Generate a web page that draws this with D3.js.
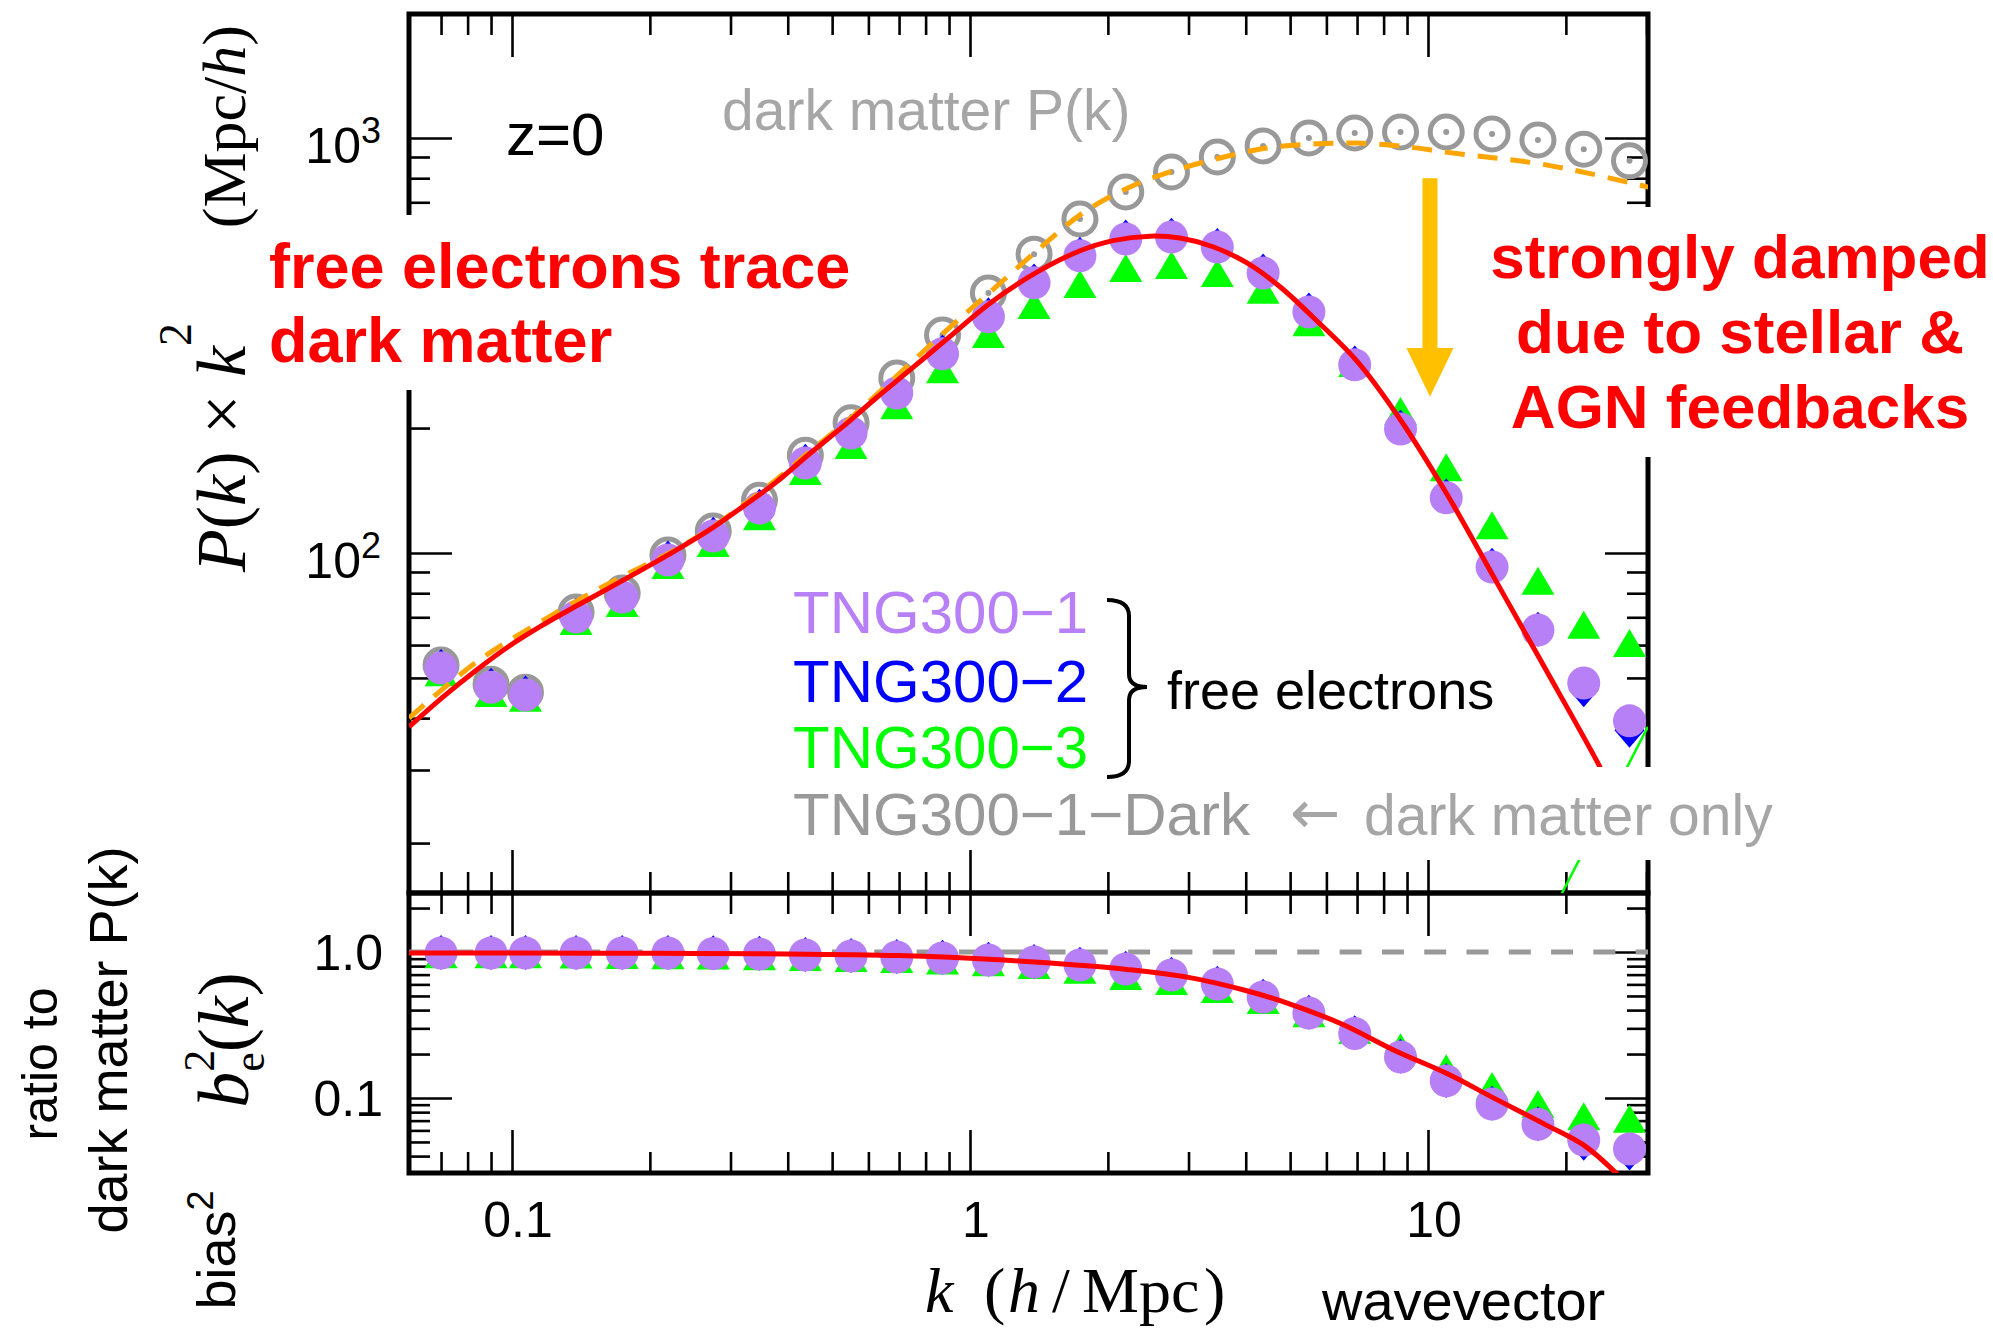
<!DOCTYPE html>
<html><head><meta charset="utf-8">
<script src="https://cdn.jsdelivr.net/npm/d3@7"></script>
<style>html,body{margin:0;padding:0;background:#fff;} svg{display:block;}</style>
</head><body>
<svg id="chart" width="1993" height="1333"></svg>
<script>
// ---------------- DATA ----------------
const kBins = [0.070, 0.090, 0.107, 0.138, 0.174, 0.219, 0.275, 0.347, 0.437, 0.550, 0.692, 0.871, 1.097, 1.380, 1.738, 2.188, 2.754, 3.467, 4.365, 5.495, 6.918, 8.710, 10.96, 13.80, 17.38, 21.88, 27.54];
// P(k) x k^2  (Mpc/h)
const pkDark = [53.7, 48.3, 46.2, 72.1, 80.1, 98.9, 113, 134, 172, 206, 264, 335, 423, 525, 638, 741, 828, 900, 957, 1000, 1028, 1034, 1034, 1023, 989, 940, 881];
const pkTNG1 = [52.8, 47.5, 45.5, 70.1, 78.3, 96.2, 109.9, 128.3, 164.8, 194.6, 243, 302, 371, 448, 520, 571, 577, 546, 473, 381, 284, 199, 135.8, 92.5, 65.2, 48.6, 39.4];
const pkTNG2 = [53.3, 48.0, 46.0, 70.8, 79.1, 97.2, 111.0, 129.6, 166.4, 196.5, 245, 305, 375, 452, 525, 577, 583, 551, 478, 385, 287, 201, 137.2, 93.4, 65.5, 46.8, 37.4];
const pkTNG3 = [51.6, 46.0, 44.8, 68.6, 75.8, 93.6, 105.7, 122.7, 157.7, 182, 227, 277, 337, 396, 445, 486, 494, 473, 431, 360, 287, 220, 161, 116.7, 85.7, 67.2, 60.7];
// bias^2 = ratio to dark matter P(k)
const b2TNG1 = [0.984, 0.984, 0.984, 0.984, 0.984, 0.984, 0.977, 0.969, 0.954, 0.939, 0.924, 0.910, 0.882, 0.854, 0.815, 0.765, 0.696, 0.604, 0.492, 0.382, 0.277, 0.191, 0.131, 0.091, 0.066, 0.0515, 0.0448];
const b2TNG2 = [0.994, 0.994, 0.994, 0.994, 0.994, 0.994, 0.987, 0.979, 0.963, 0.948, 0.933, 0.919, 0.891, 0.862, 0.823, 0.773, 0.703, 0.610, 0.497, 0.386, 0.280, 0.193, 0.132, 0.092, 0.0665, 0.0490, 0.0420];
const b2TNG3 = [0.965, 0.965, 0.965, 0.960, 0.955, 0.950, 0.945, 0.935, 0.925, 0.910, 0.895, 0.875, 0.850, 0.815, 0.755, 0.685, 0.633, 0.558, 0.469, 0.380, 0.292, 0.223, 0.160, 0.121, 0.091, 0.075, 0.072];
// model curves
const modelK  = [0.0596, 0.0702, 0.0834, 0.0985, 0.1161, 0.1378, 0.1628, 0.1924, 0.228, 0.2692, 0.318, 0.377, 0.4452, 0.526, 0.623, 0.751, 0.891, 1.106, 1.400, 1.739, 2.052, 2.472, 2.874, 3.393, 4.026, 4.752, 5.610, 6.998, 8.69, 11.11, 14.0, 17.65, 23.74, 24.5];
const modelPe = [38.1, 44.7, 52.1, 59.6, 66.8, 74.4, 82.3, 91.2, 101.5, 113.5, 129, 148, 173, 201, 236, 280, 328, 400, 475, 535, 566, 580, 574, 547, 500, 438, 370, 290, 210, 136, 86.5, 54.9, 30.5, 28.3];
const dmModelK = [0.0596, 0.0834, 0.1161, 0.1628, 0.228, 0.2692, 0.318, 0.377, 0.4452, 0.55, 0.669, 0.891, 1.106, 1.400, 1.764, 2.212, 2.773, 3.515, 4.449, 5.610, 6.998, 8.814, 11.15, 14.0, 17.6, 22.2, 29.0, 30.5];
const dmModelP = [40.0, 54.5, 68.5, 84.5, 102, 114, 130, 150, 175, 212, 258, 345, 425, 535, 660, 758, 833, 895, 946, 967, 972, 955, 922, 895, 866, 824, 770, 760];
const biasModelK = [0.0596, 0.1, 0.2, 0.4, 0.7, 1.0, 1.3, 1.7, 2.2, 3.0, 4.0, 5.0, 6.5, 8.5, 11, 14, 18, 22, 26.5];
const biasModelB = [0.985, 0.984, 0.98, 0.97, 0.945, 0.905, 0.865, 0.815, 0.76, 0.67, 0.545, 0.44, 0.32, 0.21, 0.147, 0.099, 0.066, 0.047, 0.028];
const tng3TailK = [19.4, 30.2];
const tng3TailP = [14.8, 38.1];
// arrow annotation (data coords)
const arrowK = 10.1, arrowFromP = 800, arrowHeadP = 312, arrowTipP = 238;
// ticks
const xMajor = [0.1, 1, 10];
const xMinor = [0.07, 0.08, 0.09, 0.2, 0.3, 0.4, 0.5, 0.6, 0.7, 0.8, 0.9, 2, 3, 4, 5, 6, 7, 8, 9, 20, 30];
const xLabels = ["0.1", "1", "10"];
const yTopMajor = [100, 1000];
const yTopMinor = [20, 30, 40, 50, 60, 70, 80, 90, 200, 300, 400, 500, 600, 700, 800, 900, 2000];
const yTopLabels = [["10", "2"], ["10", "3"]];
const yBotMajor = [0.1, 1];
const yBotMinor = [0.04, 0.05, 0.06, 0.07, 0.08, 0.09, 0.2, 0.3, 0.4, 0.5, 0.6, 0.7, 0.8, 0.9, 2];
const yBotLabels = ["0.1", "1.0"];
const legendNames = ["TNG300\u22121", "TNG300\u22122", "TNG300\u22123", "TNG300\u22121\u2212Dark"];

// ---------------- LAYOUT ----------------
const L = 409, R = 1648, T = 14, M = 893, B = 1173;
const SANS = "'Liberation Sans', Arial, Helvetica, sans-serif";
const SERIF = "'Liberation Serif', 'DejaVu Serif', serif";
const C = {purple: "#b880f7", blue: "#0000ff", green: "#00ff00", gray: "#999999", lgray: "#a6a6a6", red: "#ff0000", orange: "#ffa500", arrow: "#ffc000"};

const svg = d3.select("#chart");
svg.append("rect").attr("width", 1993).attr("height", 1333).attr("fill", "#fff");

const x = d3.scaleLog().domain([0.1, 10]).range([512, 1428]);
const yT = d3.scaleLog().domain([100, 1000]).range([553, 138]);
const yB = d3.scaleLog().domain([0.1, 1]).range([1098, 952]);

const defs = svg.append("defs");
defs.append("clipPath").attr("id", "clipT").append("rect").attr("x", L).attr("y", T).attr("width", R - L).attr("height", M - T);
defs.append("clipPath").attr("id", "clipB").append("rect").attr("x", L).attr("y", M).attr("width", R - L).attr("height", B - M);

// ---------------- TICKS ----------------
function tickSet(axisFn, scale, vals, size, tx, ty) {
  const g = svg.append("g").attr("transform", `translate(${tx},${ty})`)
    .call(axisFn(scale).tickValues(vals).tickSizeInner(size).tickSizeOuter(0).tickFormat(""));
  g.select(".domain").remove();
  g.selectAll("line").attr("stroke", "#000").attr("stroke-width", 2.6);
  return g;
}
[[d3.axisBottom, T], [d3.axisTop, M], [d3.axisBottom, M], [d3.axisTop, B]].forEach(([fn, yy]) => {
  tickSet(fn, x, xMajor, 43, 0, yy);
  tickSet(fn, x, xMinor, 21, 0, yy);
});
[[d3.axisRight, L], [d3.axisLeft, R]].forEach(([fn, xx]) => {
  tickSet(fn, yT, yTopMajor, 43, xx, 0);
  tickSet(fn, yT, yTopMinor, 21, xx, 0);
  tickSet(fn, yB, yBotMajor, 43, xx, 0);
  tickSet(fn, yB, yBotMinor, 21, xx, 0);
});

// frame
const frame = svg.append("g").attr("stroke", "#000").attr("stroke-width", 5).attr("fill", "none");
frame.append("rect").attr("x", L).attr("y", T).attr("width", R - L).attr("height", M - T);
frame.append("rect").attr("x", L).attr("y", M).attr("width", R - L).attr("height", B - M);

// ---------------- TOP PANEL ----------------
const gT = svg.append("g");
gT.selectAll("circle.dm").data(kBins).join("circle")
  .attr("cx", (d) => x(d)).attr("cy", (d, i) => yT(pkDark[i])).attr("r", 16)
  .attr("fill", "none").attr("stroke", C.gray).attr("stroke-width", 5);
gT.selectAll("circle.dmdot").data(kBins).join("circle").attr("class", "dmdot")
  .attr("cx", (d) => x(d)).attr("cy", (d, i) => yT(pkDark[i])).attr("r", 3).attr("fill", C.gray);

function tri(cx, cy) { return `M${cx},${cy - 14}L${cx + 16.5},${cy + 14}L${cx - 16.5},${cy + 14}Z`; }
function dia(cx, cy) { return `M${cx},${cy - 17.5}L${cx + 15},${cy}L${cx},${cy + 17.5}L${cx - 15},${cy}Z`; }

function markers(g, yScale, arrG, arrB, arrP) {
  g.append("g").selectAll("path").data(kBins).join("path")
    .attr("d", (d, i) => tri(x(d), yScale(arrG[i]))).attr("fill", C.green);
  g.append("g").selectAll("path").data(kBins).join("path")
    .attr("d", (d, i) => dia(x(d), yScale(arrB[i]))).attr("fill", C.blue);
  g.append("g").selectAll("circle").data(kBins).join("circle")
    .attr("cx", (d) => x(d)).attr("cy", (d, i) => yScale(arrP[i])).attr("r", 16.5).attr("fill", C.purple);
}
markers(gT, yT, pkTNG3, pkTNG2, pkTNG1);

const lineT = d3.line().curve(d3.curveCatmullRom.alpha(0.5));
gT.append("path").attr("clip-path", "url(#clipT)")
  .attr("d", lineT(tng3TailK.map((k, i) => [x(k), yT(tng3TailP[i])])))
  .attr("fill", "none").attr("stroke", C.green).attr("stroke-width", 2.5);
gT.append("path").attr("clip-path", "url(#clipT)")
  .attr("d", lineT(dmModelK.map((k, i) => [x(k), yT(dmModelP[i])])))
  .attr("fill", "none").attr("stroke", C.orange).attr("stroke-width", 5).attr("stroke-dasharray", "20,13");
gT.append("path").attr("clip-path", "url(#clipT)")
  .attr("d", lineT(modelK.map((k, i) => [x(k), yT(modelPe[i])])))
  .attr("fill", "none").attr("stroke", C.red).attr("stroke-width", 5);

// ---------------- BOTTOM PANEL ----------------
const gB = svg.append("g");
gB.append("line").attr("x1", L).attr("x2", R).attr("y1", yB(1)).attr("y2", yB(1))
  .attr("stroke", C.gray).attr("stroke-width", 5).attr("stroke-dasharray", "22,20.3");
markers(gB, yB, b2TNG3, b2TNG2, b2TNG1);
gB.append("path").attr("clip-path", "url(#clipB)")
  .attr("d", lineT(biasModelK.map((k, i) => [x(k), yB(biasModelB[i])])))
  .attr("fill", "none").attr("stroke", C.red).attr("stroke-width", 5);

// ---------------- ARROW ----------------
const ax = x(arrowK);
svg.append("rect").attr("x", ax - 7.5).attr("y", yT(arrowFromP)).attr("width", 15).attr("height", yT(arrowHeadP) - yT(arrowFromP) + 2).attr("fill", C.arrow);
svg.append("path").attr("d", `M${ax - 23.5},${yT(arrowHeadP)}L${ax + 23.5},${yT(arrowHeadP)}L${ax},${yT(arrowTipP)}Z`).attr("fill", C.arrow);

// ---------------- WHITE LABEL BOXES ----------------
svg.append("rect").attr("x", 250).attr("y", 215).attr("width", 620).attr("height", 175).attr("fill", "#fff");
svg.append("rect").attr("x", 1460).attr("y", 207).attr("width", 533).attr("height", 250).attr("fill", "#fff");
svg.append("rect").attr("x", 1280).attr("y", 767).attr("width", 520).attr("height", 93).attr("fill", "#fff");

// ---------------- TEXT ----------------
function txt(s, xx, yy, opts = {}) {
  return svg.append("text").attr("x", xx).attr("y", yy).text(s)
    .attr("font-family", opts.family || SANS).attr("font-size", opts.size || 50)
    .attr("font-weight", opts.weight || "normal").attr("fill", opts.fill || "#000")
    .attr("text-anchor", opts.anchor || "start");
}
yTopMajor.forEach((v, i) => {
  const t = svg.append("text").attr("x", 381).attr("y", yT(v) + 25).attr("text-anchor", "end")
    .attr("font-family", SANS).attr("font-size", 50);
  t.append("tspan").text(yTopLabels[i][0]);
  t.append("tspan").attr("font-size", 36).attr("dy", -20).text(yTopLabels[i][1]);
});
yBotMajor.forEach((v, i) => { txt(yBotLabels[i], 383, yB(v) + 18, {anchor: "end"}); });
xMajor.forEach((v, i) => { txt(xLabels[i], x(v) + 6, 1237, {anchor: "middle"}); });

// x title
const xt = svg.append("text").attr("y", 1312).attr("font-family", SERIF).attr("font-size", 64);
xt.append("tspan").attr("x", 925).attr("font-style", "italic").text("k");
xt.append("tspan").attr("x", 984).text("(");
xt.append("tspan").attr("x", 1008).attr("font-style", "italic").text("h");
xt.append("tspan").attr("x", 1052).text("/");
xt.append("tspan").attr("x", 1082).text("Mpc");
xt.append("tspan").attr("x", 1204).text(")");
txt("wavevector", 1322, 1320, {size: 56});

// y title top (rotated)
const yg = svg.append("g").attr("transform", "translate(245,0) rotate(-90)");
const yt1 = yg.append("text").attr("x", -572).attr("y", 0).attr("font-family", SERIF).attr("font-size", 70);
yt1.append("tspan").attr("font-style", "italic").text("P");
yt1.append("tspan").text("(");
yt1.append("tspan").attr("font-style", "italic").text("k");
yt1.append("tspan").text(") \u00d7 ");
yt1.append("tspan").attr("font-style", "italic").text("k");
yt1.append("tspan").attr("font-size", 46).attr("dy", -54).text("2");
const yt2 = yg.append("text").attr("x", -25).attr("y", 0).attr("text-anchor", "end").attr("font-family", SERIF).attr("font-size", 62);
yt2.append("tspan").text("(Mpc/");
yt2.append("tspan").attr("font-style", "italic").text("h");
yt2.append("tspan").text(")");

// bottom y title
const bg = svg.append("g").attr("transform", "translate(248,1040) rotate(-90)");
const bt = bg.append("text").attr("text-anchor", "middle").attr("font-family", SERIF).attr("font-size", 72);
bt.append("tspan").attr("font-style", "italic").text("b");
bt.append("tspan").attr("font-size", 44).attr("dy", -34).text("2");
bt.append("tspan").attr("font-size", 44).attr("dx", -22).attr("dy", 50).text("e");
bt.append("tspan").attr("dy", -16).text("(");
bt.append("tspan").attr("font-style", "italic").text("k");
bt.append("tspan").text(")");

// rotated sans labels
function rot(s, cx, cy, size) {
  const g = svg.append("g").attr("transform", `translate(${cx},${cy}) rotate(-90)`);
  return g.append("text").attr("text-anchor", "middle").attr("font-family", SANS).attr("font-size", size).text(s);
}
rot("ratio to", 57, 1064, 50);
rot("dark matter P(k)", 127, 1040, 54);
const bias = rot("", 235, 1250, 54);
bias.append("tspan").text("bias");
bias.append("tspan").attr("font-size", 36).attr("dy", -22).text("2");

// annotations
txt("z=0", 506, 155, {size: 60});
txt("dark matter P(k)", 722, 130, {size: 57, fill: C.lgray});
txt("free electrons trace", 269, 288, {size: 63, weight: "bold", fill: C.red});
txt("dark matter", 269, 362, {size: 63, weight: "bold", fill: C.red});
txt("strongly damped", 1740, 278, {size: 62, weight: "bold", fill: C.red, anchor: "middle"});
txt("due to stellar &", 1740, 353, {size: 62, weight: "bold", fill: C.red, anchor: "middle"});
txt("AGN feedbacks", 1740, 428, {size: 62, weight: "bold", fill: C.red, anchor: "middle"});

// legend
const legCol = [C.purple, C.blue, C.green, C.gray];
const legY = [633, 702, 768, 835];
legendNames.forEach((n, i) => txt(n, 793, legY[i], {size: 60, fill: legCol[i]}));
svg.append("path").attr("d", "M1107,600 Q1129,600 1129,616 L1129,674 Q1129,687 1147,687 Q1129,687 1129,700 L1129,761 Q1129,777 1107,777")
  .attr("fill", "none").attr("stroke", "#000").attr("stroke-width", 4);
txt("free electrons", 1167, 709, {size: 54});
txt("\u2190", 1290, 833, {size: 60, fill: C.lgray, family: "'DejaVu Sans', sans-serif"});
txt("dark matter only", 1364, 835, {size: 57, fill: C.lgray});
</script>
</body></html>
